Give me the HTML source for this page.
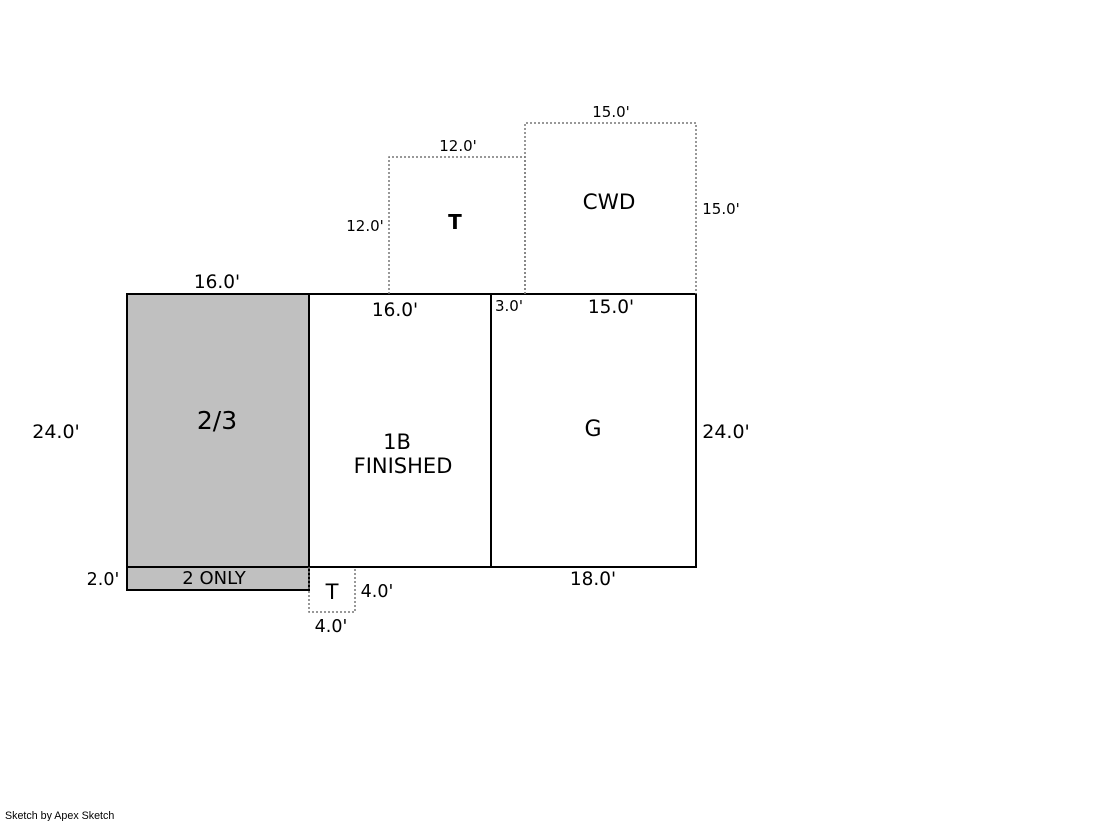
<!DOCTYPE html>
<html><head><meta charset="utf-8"><style>
body{margin:0;background:#fff}
svg text{font-family:"DejaVu Sans","Liberation Sans",sans-serif;fill:#000}
</style></head><body>
<svg width="1119" height="821" xmlns="http://www.w3.org/2000/svg">
<rect x="127" y="294" width="182" height="273" fill="#c0c0c0"/>
<rect x="127" y="567" width="182" height="23" fill="#c0c0c0" stroke="#000" stroke-width="2"/>
<rect x="127" y="294" width="569" height="273" fill="none" stroke="#000" stroke-width="2"/>
<line x1="309" y1="294" x2="309" y2="567" stroke="#000" stroke-width="2"/>
<line x1="491" y1="294" x2="491" y2="567" stroke="#000" stroke-width="2"/>
<g fill="none" stroke="#777" stroke-width="1.5" stroke-dasharray="2,2">
<polyline points="389,294 389,157 525,157 525,294"/>
<polyline points="525,294 525,123 696,123 696,294"/>
<polyline points="309,567 309,612 355,612 355,567"/>
</g>
<g>
<text x="217" y="288" text-anchor="middle" font-size="18.5">16.0'</text>
<text x="395" y="316" text-anchor="middle" font-size="18.5">16.0'</text>
<text x="611" y="313" text-anchor="middle" font-size="18.5">15.0'</text>
<text x="495" y="311" font-size="15">3.0'</text>
<text x="56" y="438" text-anchor="middle" font-size="19">24.0'</text>
<text x="726" y="438" text-anchor="middle" font-size="19">24.0'</text>
<text x="103" y="585" text-anchor="middle" font-size="17.5">2.0'</text>
<text x="593" y="585" text-anchor="middle" font-size="18.5">18.0'</text>
<text x="377" y="597" text-anchor="middle" font-size="17.5">4.0'</text>
<text x="331" y="632" text-anchor="middle" font-size="17.5">4.0'</text>
<text x="458" y="151" text-anchor="middle" font-size="15">12.0'</text>
<text x="365" y="231" text-anchor="middle" font-size="15">12.0'</text>
<text x="611" y="117" text-anchor="middle" font-size="15">15.0'</text>
<text x="721" y="214" text-anchor="middle" font-size="15">15.0'</text>
<text x="217" y="429" text-anchor="middle" font-size="25">2/3</text>
<text x="397" y="449" text-anchor="middle" font-size="21">1B</text>
<text x="403" y="473" text-anchor="middle" font-size="21">FINISHED</text>
<text x="593" y="436" text-anchor="middle" font-size="22">G</text>
<text x="609" y="209" text-anchor="middle" font-size="21.5">CWD</text>
<text x="455" y="229" text-anchor="middle" font-size="20" font-weight="bold">T</text>
<text x="332" y="599" text-anchor="middle" font-size="21">T</text>
<text x="214" y="584" text-anchor="middle" font-size="18">2 ONLY</text>
<text x="5" y="819" font-size="10.7" style="font-family:'Liberation Sans',sans-serif">Sketch by Apex Sketch</text>
</g>
</svg>
</body></html>
